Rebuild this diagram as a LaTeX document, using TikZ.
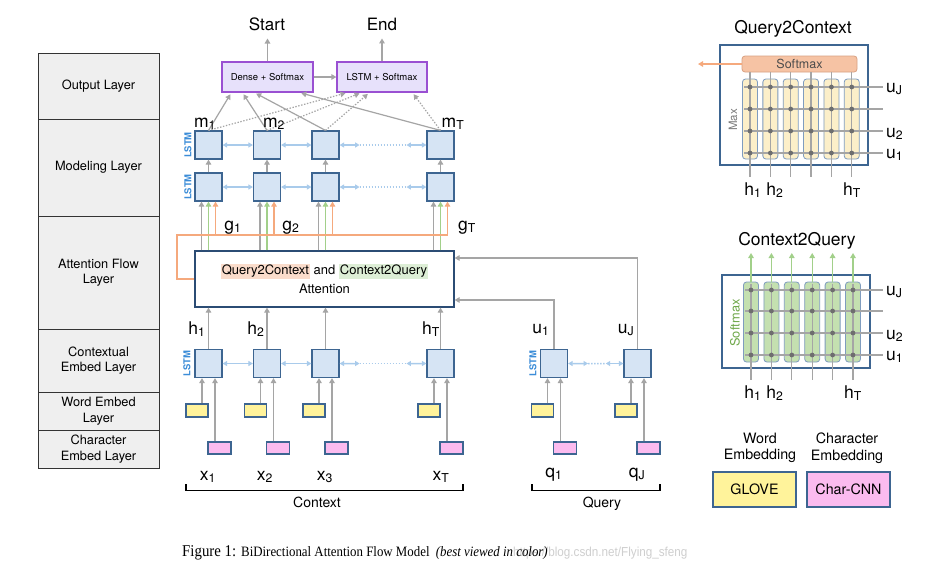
\documentclass[tikz,border=0pt]{standalone}
\usepackage{fontspec}
\setmainfont{TeX Gyre Heros}
\newfontfamily\capfont{Liberation Serif}
\newfontfamily\wmfont{Liberation Sans}
\usetikzlibrary{arrows.meta,calc}
\setlength{\fboxsep}{1pt}
\newcommand{\fsz}[2]{\fontsize{#1}{#2}\selectfont}
\definecolor{gline}{HTML}{A5A5A5}
\definecolor{lstmfill}{HTML}{D6E4F4}
\definecolor{boxblue}{HTML}{3D6591}
\definecolor{attblue}{HTML}{2B4C74}
\definecolor{lblue}{HTML}{A9CBEB}
\definecolor{lstmtxt}{HTML}{3C8DD8}
\definecolor{orng}{HTML}{F5A97D}
\definecolor{grn}{HTML}{A2D08A}
\definecolor{ylw}{HTML}{FFF39B}
\definecolor{pnk}{HTML}{FBBBEF}
\definecolor{purpfill}{HTML}{E7E1FB}
\definecolor{purp}{HTML}{9A50D2}
\definecolor{layerfill}{HTML}{EFEFEF}
\definecolor{smfill}{HTML}{F6C3A4}
\definecolor{smdraw}{HTML}{D9A182}
\definecolor{colyel}{HTML}{FCEFC9}
\definecolor{colgrn}{HTML}{C4E0B0}
\definecolor{coldraw}{HTML}{7F9CBF}
\definecolor{dotc}{HTML}{6E6E6E}
\definecolor{q2cbg}{HTML}{FADCCB}
\definecolor{c2qbg}{HTML}{DDEED6}
\definecolor{sfgreen}{HTML}{6FA84A}
\definecolor{maxgray}{HTML}{7A7A7A}
\definecolor{wmgray}{HTML}{CFCFCF}
\tikzset{
  tip/.style={-{Triangle[width=5.5pt,length=5pt]}},
  garrow/.style={draw=gline, line width=1.2pt, tip},
  gdot/.style={garrow, dash pattern=on 1.4pt off 1.6pt},
  barrow/.style={draw=lblue, line width=1.5pt, {Triangle[width=5pt,length=4.5pt]}-{Triangle[width=5pt,length=4.5pt]}},
  bdots/.style={draw=lblue, line width=1.5pt, dash pattern=on 1.5pt off 1.5pt},
  oarrow/.style={draw=orng, line width=1.2pt, tip},
  oline/.style={draw=orng, line width=1.2pt},
  narrow/.style={draw=grn, line width=1.2pt, tip},
  lstm/.style={draw=boxblue, fill=lstmfill, line width=1.2pt, minimum width=27pt, minimum height=28pt, inner sep=0pt},
  wemb/.style={draw=boxblue, fill=ylw, line width=1.1pt, minimum width=22pt, minimum height=13pt, inner sep=0pt},
  cemb/.style={draw=boxblue, fill=pnk, line width=1.1pt, minimum width=23pt, minimum height=12pt, inner sep=0pt},
  outbox/.style={draw=purp, fill=purpfill, line width=1.2pt, minimum width=91pt, minimum height=30pt, inner sep=0pt, font=\fsz{9.5}{11}},
  lay/.style={draw=black!80, fill=layerfill, line width=0.8pt, minimum width=121pt, inner sep=0pt, align=center, font=\fsz{12.8}{15.5}},
  lbl/.style={font=\fsz{17.5}{20}, inner sep=0pt, anchor=base},
  lstmlbl/.style={rotate=90, font=\bfseries\fsz{9.5}{10}, text=lstmtxt, inner sep=0pt},
  gridl/.style={draw=gline, line width=1.3pt},
  legbox/.style={draw=boxblue, line width=1.1pt, minimum width=83pt, minimum height=35pt, inner sep=0pt, font=\fsz{14.3}{17}},
}
\begin{document}
\begin{tikzpicture}[x=1pt,y=-1pt]
\useasboundingbox (0,0) rectangle (933,571);
\fill[white] (0,0) rectangle (933,571);

% ---------- left layer column ----------
\node[lay, minimum height=66pt]  (Lout) at (98.5,86)    {Output Layer};
\node[lay, minimum height=97pt]  (Lmod) at (98.5,167.5) {Modeling Layer};
\node[lay, minimum height=113pt] (Latt) at (98.5,272.5) {Attention Flow\\Layer};
\node[lay, minimum height=63pt]  (Lctx) at (98.5,360.5) {Contextual\\Embed Layer};
\node[lay, minimum height=38pt]  (Lwrd) at (98.5,411)   {Word Embed\\Layer};
\node[lay, minimum height=38pt]  (Lchr) at (98.5,449)   {Character\\Embed Layer};

% ---------- output layer ----------
\node[outbox] (dense) at (267.5,77) {Dense + Softmax};
\node[outbox, minimum width=90pt] (lsm) at (382,77) {LSTM + Softmax};
\node[font=\fsz{17}{20}, anchor=base, inner sep=0pt] (start) at (267,30) {Start};
\node[font=\fsz{17}{20}, anchor=base, inner sep=0pt] (end) at (382,30) {End};
\draw[garrow, shorten >=8pt] (dense.north) -- (dense.north |- start.south);
\draw[garrow, shorten >=8pt] (lsm.north) -- (lsm.north |- end.south);
\draw[garrow] (dense.east) -- (lsm.west);

% ---------- LSTM columns ----------
\foreach \n/\x in {1/208.5,2/267,3/325.5,4/440.5} {
  \node[lstm] (c\n)  at (\x,363.5) {};
  \node[lstm] (ml\n) at (\x,187) {};
  \node[lstm] (mu\n) at (\x,145) {};
  \node[wemb] (w\n)  at (\x-11.5,410.5) {};
  \node[cemb] (ch\n) at (\x+11,448) {};
}
\node[lstm] (q1) at (554,363.5) {};
\node[lstm] (q2) at (637.5,363.5) {};
\node[wemb] (qw1) at (542.5,410.5) {};
\node[wemb] (qw2) at (626,410.5) {};
\node[cemb] (qch1) at (565,448) {};
\node[cemb] (qch2) at (648.5,448) {};

\node[lstmlbl] at (188,145) {LSTM};
\node[lstmlbl] at (188,187) {LSTM};
\node[lstmlbl] at (187,363.5) {LSTM};
\node[lstmlbl] at (533,363.5) {LSTM};

% ---------- attention box ----------
\node[draw=attblue, fill=white, line width=1.2pt, minimum width=259pt, minimum height=56pt, inner sep=0pt, align=center, font=\fsz{13}{19}] (att) at (324.5,279)
  {\colorbox{q2cbg}{Query2Context} and \colorbox{c2qbg}{Context2Query}\\Attention};

% embeddings -> contextual LSTM
\foreach \n in {1,2,3,4} {
  \coordinate (cw\n) at ([xshift=-6.5pt]c\n.south);
  \coordinate (cc\n) at ([xshift=6.5pt]c\n.south);
  \draw[garrow] (cw\n |- w\n.north) -- (cw\n);
  \draw[garrow] (cc\n |- ch\n.north) -- (cc\n);
  \draw[garrow] (c\n.north) -- (c\n.north |- att.south);
  \coordinate (mg\n) at ([xshift=-7pt]ml\n.south);
  \coordinate (mn\n) at (ml\n.south);
  \coordinate (mo\n) at ([xshift=7pt]ml\n.south);
  \draw[garrow] (mg\n |- att.north) -- (mg\n);
  \draw[narrow] (mn\n |- att.north) -- (mn\n);
  \draw[garrow] (ml\n.north) -- (mu\n.south);
}
\foreach \n in {1,2} {
  \coordinate (qwc\n) at ([xshift=-6.5pt]q\n.south);
  \coordinate (qcc\n) at ([xshift=6.5pt]q\n.south);
  \draw[garrow] (qwc\n |- qw\n.north) -- (qwc\n);
  \draw[garrow] (qcc\n |- qch\n.north) -- (qcc\n);
}
% query -> attention
\coordinate (qt1) at (554,300);
\coordinate (qt2) at (637,258);
\draw[garrow] (q1.north) |- (att.east |- qt1);
\draw[garrow] (q2.north) |- (att.east |- qt2);

% orange bus
\coordinate (obus) at (177,235);
\draw[oline] (att.west) -| (obus) -- (mo4 |- obus);
\foreach \n in {1,2,3,4} { \draw[oarrow] (mo\n |- obus) -- (mo\n); }

% bidirectional horizontal arrows
\foreach \r in {c,ml,mu} {
  \draw[barrow] (\r1.east) -- (\r2.west);
  \draw[barrow] (\r2.east) -- (\r3.west);
  \draw[barrow] (\r3.east) -- ($(\r3.east)!0.23!(\r4.west)$);
  \draw[bdots] ($(\r3.east)!0.23!(\r4.west)$) -- ($(\r3.east)!0.77!(\r4.west)$);
  \draw[barrow] ($(\r3.east)!0.77!(\r4.west)$) -- (\r4.west);
}
\draw[barrow] (q1.east) -- ($(q1.east)!0.36!(q2.west)$);
\draw[bdots] ($(q1.east)!0.36!(q2.west)$) -- ($(q1.east)!0.68!(q2.west)$);
\draw[barrow] ($(q1.east)!0.68!(q2.west)$) -- (q2.west);

% modeling -> output
\draw[garrow, shorten >=2pt] (mu1.north) -- ([xshift=10pt]dense.south west);
\draw[garrow, shorten >=2pt] (mu2.north) -- ([xshift=21pt]dense.south west);
\draw[garrow, shorten >=2pt] (mu3.north) -- ([xshift=33pt]dense.south west);
\draw[garrow, shorten >=2pt] (mu4.north) -- ([xshift=78pt]dense.south west);
\draw[gdot, shorten >=2pt] (mu1.north) -- ([xshift=11pt]lsm.south west);
\draw[gdot, shorten >=2pt] (mu2.north) -- ([xshift=25pt]lsm.south west);
\draw[gdot, shorten >=2pt] (mu3.north) -- ([xshift=33pt]lsm.south west);
\draw[gdot, shorten >=2pt] (mu4.north) -- ([xshift=76pt]lsm.south west);

% labels
\node[lbl] at (205,127) {m\textsubscript{1}};
\node[lbl] at (274,127) {m\textsubscript{2}};
\node[lbl] at (453,127) {m\textsubscript{T}};
\node[lbl] at (233,230) {g\textsubscript{1}};
\node[lbl] at (291,230) {g\textsubscript{2}};
\node[lbl] at (467,230) {g\textsubscript{T}};
\node[lbl] at (197,334) {h\textsubscript{1}};
\node[lbl] at (256,334) {h\textsubscript{2}};
\node[lbl] at (431,334) {h\textsubscript{T}};
\node[lbl] at (541,333) {u\textsubscript{1}};
\node[lbl] at (626,333) {u\textsubscript{J}};
\node[lbl] at (208,480) {x\textsubscript{1}};
\node[lbl] at (265,480) {x\textsubscript{2}};
\node[lbl] at (325,480) {x\textsubscript{3}};
\node[lbl] at (441,480) {x\textsubscript{T}};
\node[lbl] at (554,477) {q\textsubscript{1}};
\node[lbl] at (637,477) {q\textsubscript{J}};

% brackets
\draw[line width=1.1pt] (186,484) -- (186,490.5) -- (463,490.5) -- (463,484);
\draw[line width=1.1pt] (532,484) -- (532,490.5) -- (660,490.5) -- (660,484);
\node[font=\fsz{14}{17}, anchor=base, inner sep=0pt] at (317,507) {Context};
\node[font=\fsz{14}{17}, anchor=base, inner sep=0pt] at (602,507) {Query};

% ---------- Query2Context panel ----------
\node[font=\fsz{17.5}{20}, anchor=base, inner sep=0pt] at (793,33) {Query2Context};
\node[draw=boxblue, line width=1.1pt, minimum width=148pt, minimum height=120pt, inner sep=0pt] (q2cbox) at (794,105) {};
\foreach \k in {0,...,5} {
  \pgfmathsetmacro\cx{750+20.35*\k}
  \draw[draw=coldraw, fill=colyel, rounded corners=3pt, line width=0.8pt] (\cx-7.5,79) rectangle (\cx+7.5,159);
}
\node[draw=smdraw, fill=smfill, rounded corners=3pt, line width=0.8pt, minimum width=115pt, minimum height=16pt, inner sep=0pt, font=\fsz{12.5}{14}, text=black!70] (q2csm) at (799.5,64) {Softmax};
\foreach \r in {87,109,131,153} { \draw[gridl] (744,\r) -- (883,\r); }
\foreach \k in {0,...,5} {
  \pgfmathsetmacro\cx{750+20.35*\k}
  \draw[gridl] (\cx,72) -- (\cx,177);
  \foreach \r in {87,109,131,153} { \fill[dotc] (\cx,\r) circle[radius=2.4pt]; }
}
\coordinate (q2cout) at (698,64);
\draw[oarrow] (q2csm.west) -- (q2cout);
\node[rotate=90, font=\fsz{11.5}{13}, text=maxgray, inner sep=0pt] at (733,120) {Max};
\node[lbl, anchor=base west] at (886,92) {u\textsubscript{J}};
\node[lbl, anchor=base west] at (886,137) {u\textsubscript{2}};
\node[lbl, anchor=base west] at (886,158) {u\textsubscript{1}};
\node[lbl] at (753,195) {h\textsubscript{1}};
\node[lbl] at (775,195) {h\textsubscript{2}};
\node[lbl] at (852,195) {h\textsubscript{T}};

% ---------- Context2Query panel ----------
\node[font=\fsz{17.5}{20}, anchor=base, inner sep=0pt] at (797,245) {Context2Query};
\node[draw=boxblue, line width=1.1pt, minimum width=148pt, minimum height=93pt, inner sep=0pt] (c2qbox) at (796,321.5) {};
\foreach \k in {0,...,5} {
  \pgfmathsetmacro\cx{751+20.4*\k}
  \draw[draw=coldraw, fill=colgrn, rounded corners=3pt, line width=0.8pt] (\cx-7.5,282) rectangle (\cx+7.5,362);
  \draw[narrow] (\cx,282) -- (\cx,253);
}
\foreach \r in {290,311,333,355} { \draw[gridl] (745,\r) -- (883,\r); }
\foreach \k in {0,...,5} {
  \pgfmathsetmacro\cx{751+20.4*\k}
  \draw[gridl] (\cx,284) -- (\cx,380);
  \foreach \r in {290,311,333,355} { \fill[dotc] (\cx,\r) circle[radius=2.4pt]; }
}
\node[rotate=90, font=\fsz{12.8}{14}, text=sfgreen, inner sep=0pt] at (735,323) {Softmax};
\node[lbl, anchor=base west] at (886,295) {u\textsubscript{J}};
\node[lbl, anchor=base west] at (886,339) {u\textsubscript{2}};
\node[lbl, anchor=base west] at (886,360) {u\textsubscript{1}};
\node[lbl] at (753,398) {h\textsubscript{1}};
\node[lbl] at (775,398) {h\textsubscript{2}};
\node[lbl] at (853,398) {h\textsubscript{T}};

% ---------- legend ----------
\node[font=\fsz{14.3}{16.5}, align=center, inner sep=0pt] at (760,448) {Word\\Embedding};
\node[font=\fsz{14.3}{16.5}, align=center, inner sep=0pt] at (847,448) {Character\\Embedding};
\node[legbox, fill=ylw] (glove) at (754.5,489.5) {GLOVE};
\node[legbox, fill=pnk] (ccnn) at (848.5,489.5) {Char-CNN};

% ---------- caption ----------
\node[anchor=base west, inner sep=0pt, text=wmgray] at (513,556) {\wmfont\fsz{13}{15}\scalebox{0.9}[1]{https://blog.csdn.net/Flying\_sfeng}};
\node[anchor=base west, inner sep=0pt] at (182,556) {\scalebox{0.9}[1]{\capfont\fsz{16.5}{18}Figure 1: \fsz{14.3}{16}BiDirectional Attention Flow Model\hspace{7pt}\itshape (best viewed in color)}};
\end{tikzpicture}
\end{document}
